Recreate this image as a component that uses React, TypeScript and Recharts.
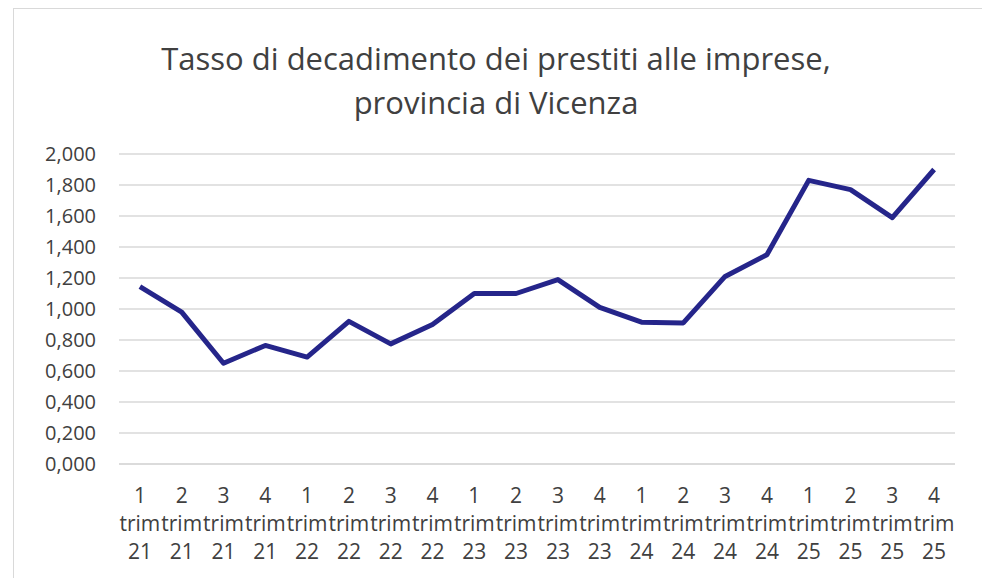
import { LineChart, Line, XAxis, YAxis, CartesianGrid } from 'recharts';

// Tasso di decadimento dei prestiti alle imprese – Vicenza, trimestrale 2021–2025
const QUARTERS = ['1', '2', '3', '4', '1', '2', '3', '4', '1', '2', '3', '4', '1', '2', '3', '4', '1', '2', '3', '4'];
const YEARS = ['21', '21', '21', '21', '22', '22', '22', '22', '23', '23', '23', '23', '24', '24', '24', '24', '25', '25', '25', '25'];
const RATES = [1.145, 0.98, 0.65, 0.765, 0.69, 0.92, 0.775, 0.9, 1.1, 1.1, 1.19, 1.01, 0.915, 0.91, 1.21, 1.35, 1.83, 1.77, 1.59, 1.9];
const Y_TICKS = [0, 0.2, 0.4, 0.6, 0.8, 1, 1.2, 1.4, 1.6, 1.8, 2];

const data = QUARTERS.map((q, i) => ({ label: `${q} trim ${YEARS[i]}`, value: RATES[i] }));

const FONT = '"Open Sans", sans-serif';
const TEXT = '#404040';
const HALF_BAND = 836 / QUARTERS.length / 2;

function QuarterTick({ x, y, payload }: any) {
  const [q, t, yr] = String(payload.value).split(' ');
  return (
    <text x={x} y={y} textAnchor="middle" fill={TEXT} style={{ fontFamily: FONT, fontSize: 21 }}>
      <tspan x={x} dy={31}>{q}</tspan>
      <tspan x={x} dy={28}>{t}</tspan>
      <tspan x={x} dy={28}>{yr}</tspan>
    </text>
  );
}

export default function App() {
  return (
    <div style={{ position: 'absolute', left: 0, top: 0, width: 982, height: 578, overflow: 'hidden', background: '#fff' }}>
      <div style={{ position: 'absolute', left: 13, top: 8, width: 990, height: 600, borderLeft: '1.5px solid #d9d9d9', borderTop: '1.5px solid #d9d9d9' }} />
      <div style={{ position: 'absolute', left: 0, top: 36, width: 992, textAlign: 'center', fontFamily: FONT, fontSize: 31, lineHeight: '44px', color: TEXT }}>
        Tasso di decadimento dei prestiti alle imprese,<br />provincia di Vicenza
      </div>
      <div style={{ position: 'absolute', left: 0, top: 0 }}>
        <LineChart width={982} height={578} data={data} margin={{ top: 154, right: 27, bottom: 0, left: 0 }}>
          <CartesianGrid vertical={false} stroke="#d9d9d9" strokeWidth={1.5} />
          <XAxis
            dataKey="label"
            interval={0}
            padding={{ left: HALF_BAND, right: HALF_BAND }}
            tickLine={false}
            axisLine={{ stroke: '#d9d9d9', strokeWidth: 1.5 }}
            tick={<QuarterTick />}
            height={114}
          />
          <YAxis
            width={119}
            domain={[0, 2]}
            ticks={Y_TICKS}
            interval={0}
            tickLine={false}
            axisLine={false}
            tickMargin={17}
            tickFormatter={(v: number) => v.toFixed(3).replace('.', ',')}
            tick={{ fill: TEXT, fontSize: 20, fontFamily: FONT }}
          />
          <Line dataKey="value" type="linear" stroke="#25258a" strokeWidth={5} dot={false} isAnimationActive={false} strokeLinejoin="round" />
        </LineChart>
      </div>
    </div>
  );
}
